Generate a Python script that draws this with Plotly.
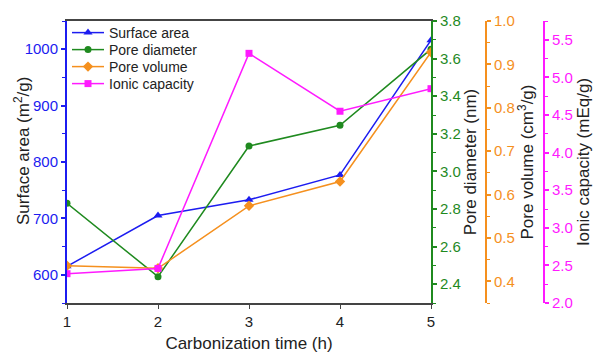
import plotly.graph_objects as go

time_h = [1, 2, 3, 4, 5]
surface_area = [615, 705, 733, 777, 1016]
pore_diameter = [2.83, 2.44, 3.135, 3.245, 3.65]
pore_volume = [0.436, 0.43, 0.574, 0.63, 0.928]
ionic_capacity = [2.39, 2.46, 5.32, 4.55, 4.85]

BLUE = "#1c1cf0"
GREEN = "#1f8a1f"
ORANGE = "#f5901e"
MAGENTA = "#ff1aff"
FONT = "Liberation Sans, Arial, sans-serif"

W, H = 593, 354
ml, mr, mt, mb = 67, 10, 21, 51
pw = W - ml - mr
ph = H - mt - mb
x_end = (431 - ml) / pw

def ly(ypx):
    return (H - mb - ypx) / ph

fig = go.Figure()
fig.add_trace(go.Scatter(x=time_h, y=surface_area, name="Surface area", mode="lines+markers",
                         line=dict(color=BLUE, width=1.5), marker=dict(symbol="triangle-up", size=8, color=BLUE),
                         yaxis="y", legend="legend"))
fig.add_trace(go.Scatter(x=time_h, y=pore_diameter, name="Pore diameter", mode="lines+markers",
                         line=dict(color=GREEN, width=1.5), marker=dict(symbol="circle", size=7, color=GREEN),
                         yaxis="y2", legend="legend2"))
fig.add_trace(go.Scatter(x=time_h, y=pore_volume, name="Pore volume", mode="lines+markers",
                         line=dict(color=ORANGE, width=1.5), marker=dict(symbol="diamond", size=8, color=ORANGE),
                         yaxis="y3", legend="legend3"))
fig.add_trace(go.Scatter(x=time_h, y=ionic_capacity, name="Ionic capacity", mode="lines+markers",
                         line=dict(color=MAGENTA, width=1.5), marker=dict(symbol="square", size=7, color=MAGENTA),
                         yaxis="y4", legend="legend4"))

def yax(color, rng, dtick, minor_dtick, title, side, fmt=None, **kw):
    d = dict(range=rng, dtick=dtick, showgrid=False, zeroline=False, showline=True,
             linecolor=color, linewidth=2, ticks="outside", ticklen=4, tickwidth=1.5, tickcolor=color,
             tickfont=dict(color=color, size=15, family=FONT),
             minor=dict(dtick=minor_dtick, ticks="outside", ticklen=3, tickcolor=color, tickwidth=1.2),
             side=side, automargin=False)
    if title:
        d["title"] = dict(text=title, font=dict(color="#222", size=17, family=FONT), standoff=4)
    if fmt:
        d["tickformat"] = fmt
    d.update(kw)
    return d

def leg(ypx):
    return dict(x=0.0, y=ly(ypx), xanchor="left", yanchor="middle", bgcolor="rgba(0,0,0,0)",
                font=dict(size=14, family=FONT, color="#222"), itemwidth=32)

fig.update_layout(
    width=W, height=H,
    margin=dict(l=ml, r=mr, t=mt, b=mb),
    paper_bgcolor="white", plot_bgcolor="white",
    font=dict(family=FONT, color="#222"),
    showlegend=True,
    legend=leg(33), legend2=leg(50), legend3=leg(67), legend4=leg(84),
    xaxis=dict(domain=[0, x_end], range=[1, 5], dtick=1, showgrid=False, zeroline=False,
               showline=True, linecolor="#444", linewidth=2, mirror=True,
               ticks="outside", ticklen=4, tickcolor="#444",
               tickfont=dict(size=15, color="#222", family=FONT),
               title=dict(text="Carbonization time (h)", font=dict(size=17, color="#222", family=FONT), standoff=8),
               automargin=False),
    yaxis=yax(BLUE, [550, 1050], 100, 50, None, "left", ticklen=4),
    yaxis2=yax(GREEN, [2.3, 3.8], 0.2, 0.1, "Pore diameter (nm)", "right", ".1f", overlaying="y", anchor="x"),
    yaxis3=yax(ORANGE, [0.35, 1.0], 0.1, 0.05, "Pore volume (cm<sup>3</sup>/g)", "right", ".1f", overlaying="y",
               anchor="free", position=(486 - ml) / pw),
    yaxis4=yax(MAGENTA, [2.0, 5.75], 0.5, 0.25, "Ionic capacity (mEq/g)", "right", ".1f", overlaying="y",
               anchor="free", position=(544 - ml) / pw),
    annotations=[dict(text="Surface area (m<sup>2</sup>/g)", textangle=-90, xref="paper", yref="paper",
                      x=(22 - ml) / pw, y=ly(151), xanchor="center", yanchor="middle", showarrow=False,
                      font=dict(color="#222", size=17, family=FONT))],
)

fig.write_html("out.html")
